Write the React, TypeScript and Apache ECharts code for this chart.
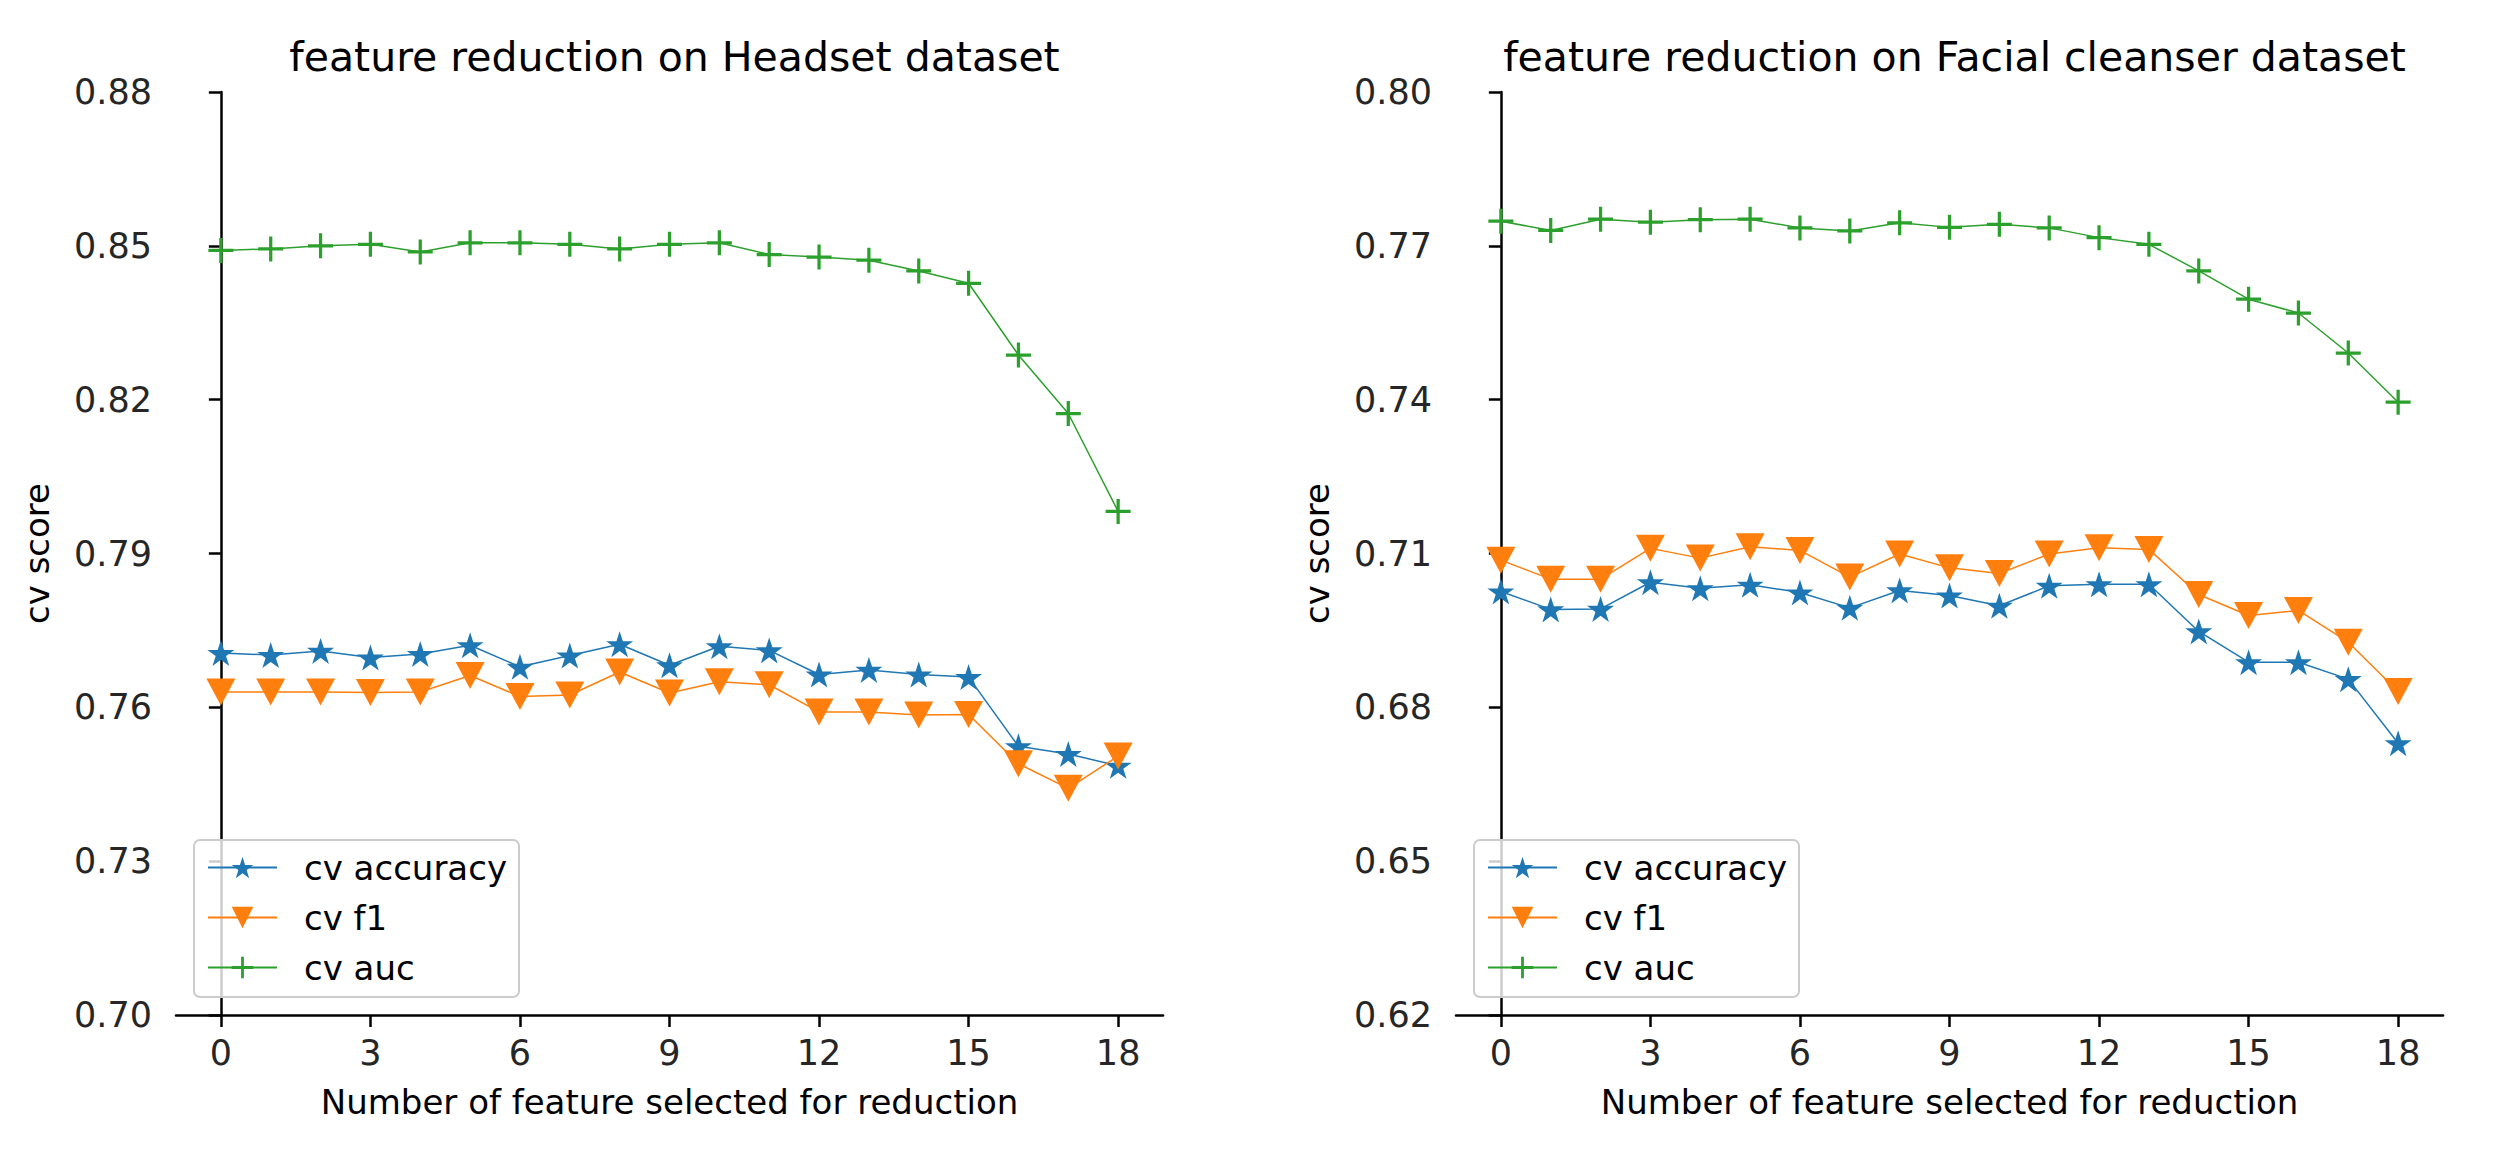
import React, { useEffect, useRef } from "react";
import * as echarts from "echarts";

const featureCounts = [0, 1, 2, 3, 4, 5, 6, 7, 8, 9, 10, 11, 12, 13, 14, 15, 16, 17, 18];
const xTicks = [0, 3, 6, 9, 12, 15, 18];

const headsetTitle = "feature reduction on Headset dataset";
const facialTitle = "feature reduction on Facial cleanser dataset";
const seriesNames = ["cv accuracy", "cv f1", "cv auc"];

const headsetAccuracy = [0.7706, 0.7702, 0.771, 0.7697, 0.7704, 0.7721, 0.7679, 0.7701, 0.7723, 0.7682, 0.7719, 0.7711, 0.7664, 0.7673, 0.7664, 0.7659, 0.7524, 0.7509, 0.7486];
const headsetF1 = [0.763, 0.763, 0.763, 0.7629, 0.763, 0.7662, 0.7621, 0.7624, 0.7669, 0.7628, 0.765, 0.7644, 0.7591, 0.7591, 0.7585, 0.7586, 0.749, 0.7442, 0.7505];
const headsetAuc = [0.8491, 0.8494, 0.85, 0.8503, 0.8488, 0.8506, 0.8506, 0.8503, 0.8494, 0.8503, 0.8506, 0.8483, 0.8478, 0.8472, 0.8451, 0.8427, 0.8287, 0.8173, 0.7982];
const headsetYTicks = [0.7, 0.73, 0.76, 0.79, 0.82, 0.85, 0.88];

const facialAccuracy = [0.7026, 0.6991, 0.6992, 0.7044, 0.7032, 0.7039, 0.7024, 0.6994, 0.7028, 0.7018, 0.6998, 0.7037, 0.704, 0.704, 0.6948, 0.6888, 0.6888, 0.6855, 0.673];
const facialF1 = [0.7087, 0.705, 0.705, 0.711, 0.7091, 0.7113, 0.7106, 0.7054, 0.7099, 0.7072, 0.7061, 0.7099, 0.7111, 0.7108, 0.702, 0.6979, 0.6989, 0.6927, 0.6831];
const facialAuc = [0.7748, 0.773, 0.7752, 0.7746, 0.7751, 0.7752, 0.7735, 0.7729, 0.7745, 0.7736, 0.7742, 0.7735, 0.7716, 0.7703, 0.7651, 0.7596, 0.7569, 0.7491, 0.7395];
const facialYTicks = [0.62, 0.65, 0.68, 0.71, 0.74, 0.77, 0.8];

const COLORS = ["#1f77b4", "#ff7f0e", "#2ca02c"];
const FONT = "DejaVu Sans";

function starPath(): string {
  const pts: string[] = [];
  for (let i = 0; i < 10; i++) {
    const r = i % 2 === 0 ? 1 : 0.381966;
    const a = -Math.PI / 2 + (i * Math.PI) / 5;
    pts.push(`${(r * Math.cos(a)).toFixed(4)},${(r * Math.sin(a)).toFixed(4)}`);
  }
  return "path://M" + pts.join(" L") + " Z";
}
const STAR = starPath();
const TRI_DOWN = "path://M-1,0 L1,0 L0,2 Z";
const PLUS =
  "path://M-0.13,-1 L0.13,-1 L0.13,-0.13 L1,-0.13 L1,0.13 L0.13,0.13 L0.13,1 L-0.13,1 L-0.13,0.13 L-1,0.13 L-1,-0.13 L-0.13,-0.13 Z";

const SYMBOLS = [STAR, TRI_DOWN, PLUS];
const SIZES: any[] = [[27, 26], [29, 27], [25, 25]];

const GRID_TOP = 92;
const GRID_H = 923;
const GRID_W = 987;
const LEFTS = [176, 1456];

function pairs(vals: number[]) {
  return featureCounts.map((x, i) => [x, vals[i]]);
}

export default function App() {
  const ref = useRef<HTMLDivElement>(null);
  useEffect(() => {
    if (!ref.current) return;
    const chart = echarts.init(ref.current, null, { renderer: "svg" });
    const datasets = [
      [headsetAccuracy, headsetF1, headsetAuc],
      [facialAccuracy, facialF1, facialAuc],
    ];
    const yTicks = [headsetYTicks, facialYTicks];
    const titles = [headsetTitle, facialTitle];

    const axisLineStyle = { color: "#000", width: 2.5 };
    const series: any[] = [];
    datasets.forEach((ds, g) => {
      ds.forEach((vals, k) => {
        series.push({
          type: "line",
          name: seriesNames[k],
          xAxisIndex: g,
          yAxisIndex: g,
          data: pairs(vals),
          symbol: SYMBOLS[k],
          symbolSize: SIZES[k],
          showSymbol: true,
          lineStyle: { color: COLORS[k], width: 1.5 },
          itemStyle: { color: COLORS[k] },
          z: 2 + k,
        });
      });
    });

    const option: any = {
      animation: false,
      backgroundColor: "#fff",
      textStyle: { fontFamily: FONT },
      title: titles.map((t, g) => ({
        text: t,
        left: LEFTS[g] + GRID_W / 2,
        textAlign: "center",
        top: 31,
        textStyle: { fontFamily: FONT, fontSize: 41, fontWeight: "normal", color: "#000" },
      })),
      grid: LEFTS.map((l) => ({ left: l, top: GRID_TOP, width: GRID_W, height: GRID_H, containLabel: false })),
      xAxis: LEFTS.map((_, g) => ({
        type: "value",
        gridIndex: g,
        min: -0.9,
        max: 18.9,
        name: "Number of feature selected for reduction",
        nameLocation: "middle",
        nameGap: 70,
        nameTextStyle: { fontFamily: FONT, fontSize: 34, color: "#000" },
        axisLine: { show: true, lineStyle: axisLineStyle },
        axisTick: { show: true, length: 12, lineStyle: axisLineStyle, customValues: xTicks },
        axisLabel: {
          show: true,
          margin: 20,
          fontFamily: FONT,
          fontSize: 35,
          color: "#262626",
          customValues: xTicks,
          formatter: (v: number) => String(v),
        },
        splitLine: { show: false },
      })),
      yAxis: LEFTS.map((_, g) => ({
        type: "value",
        gridIndex: g,
        min: yTicks[g][0],
        max: yTicks[g][yTicks[g].length - 1],
        name: "cv score",
        nameLocation: "middle",
        nameRotate: 90,
        nameGap: 122,
        nameTextStyle: { fontFamily: FONT, fontSize: 34, color: "#000" },
        axisLine: { show: true, lineStyle: axisLineStyle },
        axisTick: { show: true, length: 12, lineStyle: axisLineStyle, customValues: yTicks[g] },
        axisLabel: {
          show: true,
          margin: 24,
          fontFamily: FONT,
          fontSize: 35,
          color: "#262626",
          customValues: yTicks[g],
          formatter: (v: number) => v.toFixed(2),
        },
        splitLine: { show: false },
      })),
      legend: LEFTS.map((l) => ({
        orient: "vertical",
        left: l + 18,
        top: 840,
        data: seriesNames,
        itemWidth: 69,
        itemHeight: 27,
        itemGap: 13,
        padding: [9, 12, 11, 13],
        backgroundColor: "rgba(255,255,255,0.8)",
        borderColor: "#cccccc",
        borderWidth: 2,
        borderRadius: 6,
        selectedMode: false,
        textStyle: { fontFamily: FONT, fontSize: 34, color: "#000", padding: [0, 0, 0, 22], lineHeight: 37 },
      })),
      series,
    };
    chart.setOption(option);
    return () => chart.dispose();
  }, []);

  return (
    <div
      ref={ref}
      style={{ position: "fixed", left: 0, top: 0, width: 2506, height: 1164, background: "#fff" }}
    />
  );
}
